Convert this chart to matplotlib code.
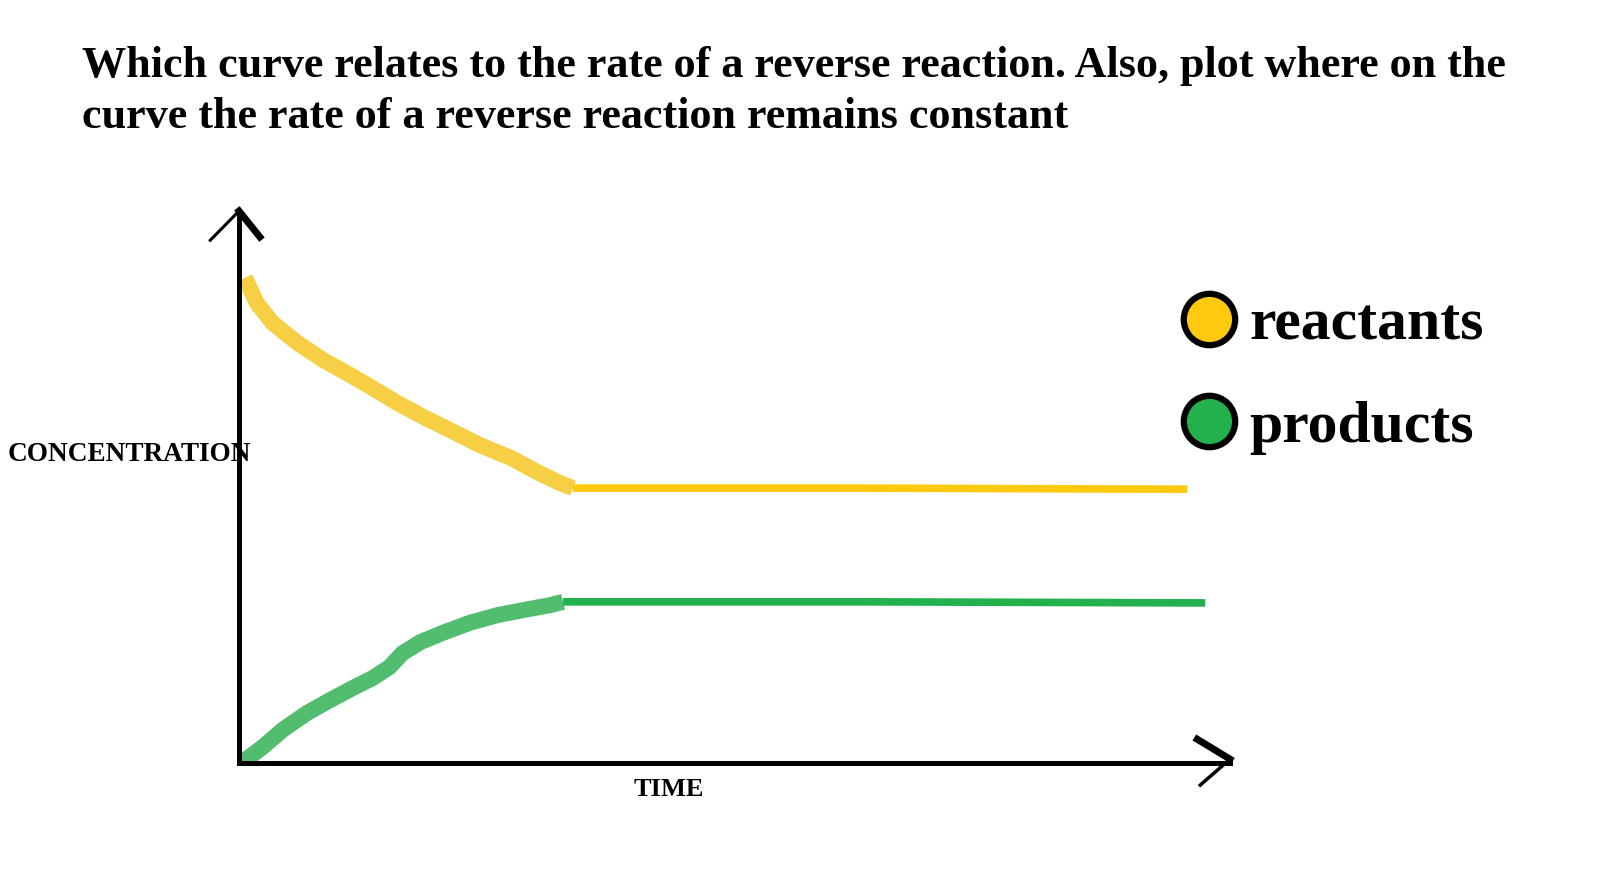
import matplotlib.pyplot as plt
from matplotlib.lines import Line2D

# data (time and concentration in arbitrary units)
reactant_time = [0.06, 0.18, 0.34, 0.59, 0.85, 1.12, 1.35, 1.60, 1.86, 2.13, 2.43, 2.74, 3.01, 3.24, 3.37]
reactant_conc = [8.79, 8.33, 7.97, 7.61, 7.30, 7.03, 6.79, 6.52, 6.27, 6.03, 5.76, 5.53, 5.27, 5.07, 4.98]
reactant_flat_time = [3.37, 6.2, 9.57]
reactant_flat_conc = [4.98, 4.98, 4.96]

product_time = [0.04, 0.24, 0.44, 0.69, 0.92, 1.15, 1.35, 1.52, 1.65, 1.83, 2.06, 2.33, 2.61, 2.87, 3.14, 3.27]
product_conc = [0.02, 0.29, 0.60, 0.91, 1.14, 1.36, 1.54, 1.74, 1.99, 2.19, 2.36, 2.54, 2.68, 2.77, 2.86, 2.92]
product_flat_time = [3.27, 6.3, 9.75]
product_flat_conc = [2.92, 2.92, 2.90]

title_lines = ['Which curve relates to the rate of a reverse reaction. Also, plot where on the',
               'curve the rate of a reverse reaction remains constant']
legend_labels = ['reactants', 'products']

yellow_thick = '#F7CF45'
yellow = '#FFC90E'
green_thick = '#52BD6E'
green = '#22B14C'
serif = ['Liberation Serif', 'DejaVu Serif']

W, H = 1604, 886
fig = plt.figure(figsize=(W / 100, H / 100), dpi=100)
fig.patch.set_facecolor('white')

ax = fig.add_axes([239 / W, (H - 763) / H, (1230 - 239) / W, (763 - 211) / H])
ax.set_xlim(0, 10)
ax.set_ylim(0, 10)
ax.set_xticks([])
ax.set_yticks([])
for s in ['top', 'right']:
    ax.spines[s].set_visible(False)
for s in ['left', 'bottom']:
    ax.spines[s].set_linewidth(3.6)
    ax.spines[s].set_color('black')
ax.patch.set_alpha(0)

# curves
ax.plot(reactant_time, reactant_conc, color=yellow_thick, lw=11.5,
        solid_capstyle='butt', solid_joinstyle='round')
ax.plot(reactant_flat_time, reactant_flat_conc, color=yellow, lw=5.5, solid_capstyle='butt')
ax.plot(product_time, product_conc, color=green_thick, lw=11.5,
        solid_capstyle='butt', solid_joinstyle='round')
ax.plot(product_flat_time, product_flat_conc, color=green, lw=5.5, solid_capstyle='butt')

# hand drawn arrow heads
ax.plot([-0.029, 0.0], [0.947, 1.0], color='black', lw=2.2, transform=ax.transAxes, clip_on=False)
ax.plot([0.0, 0.021], [1.0, 0.953], color='black', lw=5, transform=ax.transAxes, clip_on=False)
ax.plot([0.967, 1.0], [0.043, 0.007], color='black', lw=5, transform=ax.transAxes, clip_on=False)
ax.plot([1.0, 0.97], [0.007, -0.04], color='black', lw=2.5, transform=ax.transAxes, clip_on=False)

# axis labels
fig.text(8 / W, 1 - 454 / H, 'CONCENTRATION', family=serif, weight='bold', fontsize=19.6,
         ha='left', va='center')
fig.text(669 / W, 1 - 789 / H, 'TIME', family=serif, weight='bold', fontsize=19,
         ha='center', va='center')

# title
fig.text(82 / W, 1 - 77 / H, title_lines[0], family=serif, weight='bold', fontsize=31.8, va='baseline')
fig.text(82 / W, 1 - 128 / H, title_lines[1], family=serif, weight='bold', fontsize=31.8, va='baseline')

# legend
handles = [Line2D([], [], ls='none', marker='o', markersize=37, markerfacecolor=c,
                  markeredgecolor='black', markeredgewidth=4.5)
           for c in [yellow, green]]
fig.legend(handles, legend_labels, loc='upper left', bbox_to_anchor=(1182 / W, 1 - 298 / H),
           frameon=False, borderpad=0, borderaxespad=0, handlelength=0.9, handletextpad=0.23,
           labelspacing=0.79, prop={'family': serif, 'weight': 'bold', 'size': 43})

fig.savefig('out.png', dpi=100, facecolor='white')
